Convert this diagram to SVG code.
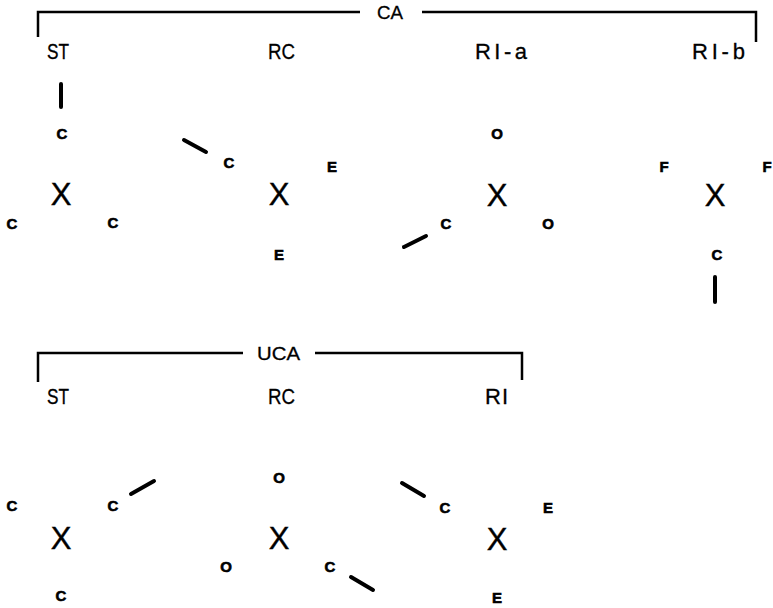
<svg xmlns="http://www.w3.org/2000/svg" width="773" height="608" viewBox="0 0 773 608">
<style>
.lbl{font-family:"Liberation Sans",Arial,sans-serif;font-size:22px;fill:#000;stroke:#000;stroke-width:0.3}
.hdr{font-family:"Liberation Sans",Arial,sans-serif;font-size:19px;fill:#000;stroke:#000;stroke-width:0.3}
.x{font-family:"Liberation Sans",Arial,sans-serif;font-size:31px;fill:#000;text-anchor:middle;stroke:#000;stroke-width:0.4}
.a{font-family:"Liberation Sans",Arial,sans-serif;font-size:15px;font-weight:bold;fill:#000;text-anchor:middle;stroke:#000;stroke-width:0.6}
.br{fill:none;stroke:#000;stroke-width:2.5}
.bond{stroke:#000;stroke-width:4;stroke-linecap:round}
</style>
<rect width="773" height="608" fill="#fff"/>
<g id="brackets">
  <path class="br" d="M38,37 V12 H360 M422,12 H756 V42"/>
  <text class="hdr" x="377" y="19" textLength="26" lengthAdjust="spacingAndGlyphs">CA</text>
  <path class="br" d="M38,382 V353 H243 M315,353 H522 V380"/>
  <text class="hdr" x="257" y="360" textLength="43" lengthAdjust="spacingAndGlyphs">UCA</text>
</g>
<g id="labels">
  <text class="lbl" x="47" y="59" textLength="22" lengthAdjust="spacingAndGlyphs">ST</text>
  <text class="lbl" x="268" y="59" textLength="27" lengthAdjust="spacingAndGlyphs">RC</text>
  <text class="lbl" x="475" y="59" textLength="52" lengthAdjust="spacing">RI-a</text>
  <text class="lbl" x="692" y="59" textLength="53" lengthAdjust="spacing">RI-b</text>
  <text class="lbl" x="47" y="404" textLength="22" lengthAdjust="spacingAndGlyphs">ST</text>
  <text class="lbl" x="268" y="404" textLength="27" lengthAdjust="spacingAndGlyphs">RC</text>
  <text class="lbl" x="485" y="404" textLength="23" lengthAdjust="spacing">RI</text>
</g>
<g id="ca-st">
  <text class="x" x="61" y="205">X</text>
  <text class="a" x="62" y="139">C</text>
  <text class="a" x="12" y="229">C</text>
  <text class="a" x="113" y="228">C</text>
</g>
<g id="ca-rc">
  <text class="x" x="279" y="205">X</text>
  <text class="a" x="229" y="168">C</text>
  <text class="a" x="332" y="172">E</text>
  <text class="a" x="279" y="260">E</text>
</g>
<g id="ca-ri-a">
  <text class="x" x="497" y="206">X</text>
  <text class="a" x="497" y="139">O</text>
  <text class="a" x="446" y="229">C</text>
  <text class="a" x="548" y="229">O</text>
</g>
<g id="ca-ri-b">
  <text class="x" x="715" y="206">X</text>
  <text class="a" x="664" y="172">F</text>
  <text class="a" x="767" y="172">F</text>
  <text class="a" x="717" y="260">C</text>
</g>
<g id="uca-st">
  <text class="x" x="61" y="549">X</text>
  <text class="a" x="12" y="511">C</text>
  <text class="a" x="113" y="511">C</text>
  <text class="a" x="61" y="601">C</text>
</g>
<g id="uca-rc">
  <text class="x" x="279" y="549">X</text>
  <text class="a" x="279" y="483">O</text>
  <text class="a" x="226" y="572">O</text>
  <text class="a" x="330" y="572">C</text>
</g>
<g id="uca-ri">
  <text class="x" x="497" y="550">X</text>
  <text class="a" x="445" y="513">C</text>
  <text class="a" x="548" y="513">E</text>
  <text class="a" x="497" y="603">E</text>
</g>
<g id="connectors">
  <line class="bond" x1="61" y1="84" x2="61" y2="107"/>
  <line class="bond" x1="184" y1="140" x2="206" y2="152"/>
  <line class="bond" x1="404" y1="247" x2="426" y2="236"/>
  <line class="bond" x1="715" y1="277" x2="715" y2="302"/>
  <line class="bond" x1="131" y1="494" x2="154" y2="481"/>
  <line class="bond" x1="402" y1="483" x2="424" y2="496"/>
  <line class="bond" x1="351" y1="577" x2="373" y2="590"/>
</g>
</svg>
